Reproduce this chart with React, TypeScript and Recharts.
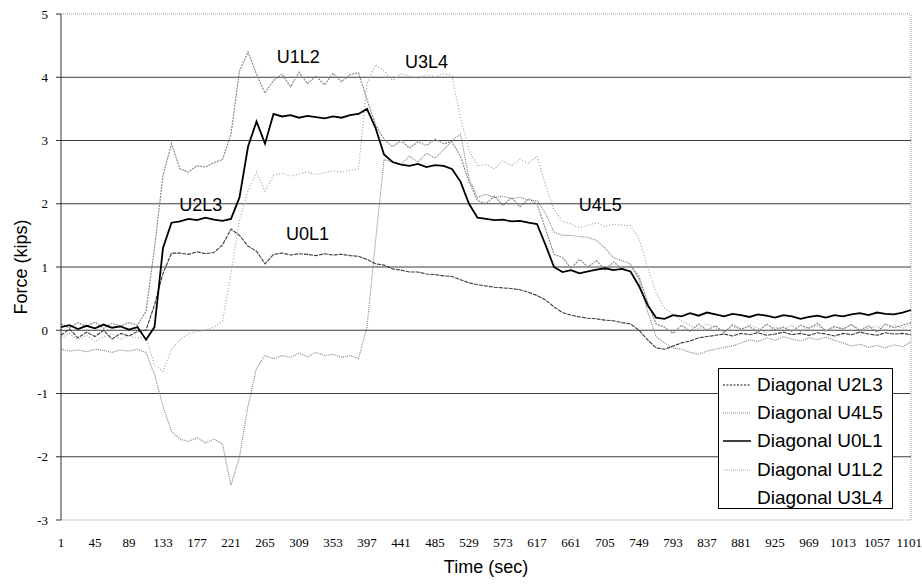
import React from 'react';
import { LineChart, Line, XAxis, YAxis, ReferenceLine, ReferenceDot } from 'recharts';

// sample times (sec)
const TIME = [
  1, 12, 23, 34, 45, 56, 67, 78, 89, 100,
  111, 122, 133, 144, 155, 166, 177, 188, 199, 210,
  221, 232, 243, 254, 265, 276, 287, 298, 309, 320,
  331, 342, 353, 364, 375, 386, 397, 408, 419, 430,
  441, 452, 463, 474, 485, 496, 507, 518, 529, 540,
  551, 562, 573, 584, 595, 606, 617, 628, 639, 650,
  661, 672, 683, 694, 705, 716, 727, 738, 749, 760,
  771, 782, 793, 804, 815, 826, 837, 848, 859, 870,
  881, 892, 903, 914, 925, 936, 947, 958, 969, 980,
  991, 1002, 1013, 1024, 1035, 1046, 1057, 1068, 1079, 1090,
  1101,
];

// Diagonal U0L1 (solid black)
const U0L1 = [
  0.05, 0.08, 0.02, 0.07, 0.03, 0.09, 0.04, 0.06, 0.01, 0.05,
  -0.15, 0.05, 1.3, 1.7, 1.72, 1.76, 1.74, 1.78, 1.75, 1.73,
  1.76, 2.1, 2.9, 3.3, 2.95, 3.42, 3.38, 3.4, 3.36, 3.39,
  3.37, 3.35, 3.38, 3.36, 3.4, 3.42, 3.5, 3.2, 2.78, 2.66,
  2.62, 2.6, 2.63, 2.58, 2.61, 2.6, 2.55, 2.35, 2.0, 1.78,
  1.76, 1.74, 1.75, 1.72, 1.73, 1.7, 1.68, 1.35, 1.0, 0.92,
  0.95, 0.9, 0.93, 0.96, 0.98, 0.95, 0.97, 0.93, 0.7, 0.4,
  0.2, 0.18, 0.24, 0.22, 0.27, 0.23, 0.28, 0.25, 0.22, 0.26,
  0.24, 0.21, 0.25, 0.23, 0.2, 0.24, 0.22, 0.18, 0.21, 0.23,
  0.2, 0.24, 0.22, 0.25, 0.27, 0.24, 0.28, 0.26, 0.25, 0.28,
  0.32,
];

// Diagonal U2L3 (dashed dark)
const U2L3 = [
  -0.08, 0.02, -0.12, -0.03, -0.1, 0.0, -0.14, -0.05, -0.09, -0.02,
  0.0, 0.4, 0.9, 1.22, 1.22, 1.2, 1.24, 1.21, 1.23, 1.35,
  1.6, 1.5, 1.33, 1.25, 1.05, 1.2, 1.22, 1.19, 1.21, 1.2,
  1.18, 1.21, 1.19, 1.2, 1.18, 1.17, 1.12, 1.05, 1.03, 0.97,
  0.95, 0.92, 0.92, 0.89, 0.88, 0.86, 0.85, 0.8, 0.75, 0.72,
  0.7, 0.68, 0.67, 0.66, 0.64, 0.6, 0.55, 0.48, 0.37, 0.28,
  0.24, 0.21, 0.19, 0.18, 0.16, 0.15, 0.12, 0.1, 0.0, -0.15,
  -0.28, -0.3, -0.25, -0.2, -0.17, -0.12, -0.1, -0.08, -0.06, -0.09,
  -0.05, -0.07, -0.04, -0.08, -0.06, -0.03, -0.07, -0.05, -0.08, -0.04,
  -0.06, -0.09, -0.05, -0.07, -0.03, -0.06, -0.08, -0.04, -0.06, -0.05,
  -0.07,
];

// Diagonal U1L2 (noisy gray)
const U1L2 = [
  0.1, 0.04, 0.12, 0.06, 0.13, 0.03, 0.11, 0.07, 0.12, 0.08,
  0.3, 1.3, 2.45, 2.95, 2.55, 2.5, 2.6, 2.58, 2.65, 2.7,
  3.1, 4.1, 4.4, 4.05, 3.75, 3.95, 4.05, 3.85, 4.08, 3.9,
  4.02, 3.88, 4.06, 3.93, 4.04, 4.07, 3.65, 3.25, 3.02, 2.9,
  3.0, 2.88, 2.98, 2.92, 3.02, 2.95, 2.98, 2.75, 2.35, 2.05,
  2.0, 2.12, 1.97, 2.1, 1.95, 2.08, 2.0, 1.6, 1.2, 1.15,
  0.98, 1.12, 1.0, 1.1, 0.95, 1.08, 0.97, 1.02, 0.85, 0.45,
  0.1, 0.05, -0.05, 0.08, -0.02, 0.1, 0.0, 0.07, -0.04, 0.09,
  0.02, 0.06, -0.03, 0.1, 0.01, 0.05, -0.02, 0.08, 0.03, 0.11,
  -0.01, 0.06, 0.02, 0.09, 0.0, 0.07, -0.03, 0.1, 0.04, 0.08,
  0.12,
];

// Diagonal U3L4 (light dotted)
const U3L4 = [
  -0.12, -0.05, -0.15, -0.08, -0.18, -0.1, -0.06, -0.14, -0.09, -0.12,
  -0.1, -0.55, -0.65, -0.3, -0.15, -0.05, -0.02, 0.0, 0.05, 0.15,
  0.9, 1.75, 2.2, 2.5, 2.2, 2.45, 2.48, 2.44, 2.47, 2.5,
  2.46, 2.49, 2.52, 2.5, 2.53, 2.55, 3.9, 4.2, 4.1, 3.95,
  4.05, 4.02, 3.98, 4.04, 4.0, 4.06, 4.02, 3.35, 2.85, 2.6,
  2.62, 2.55, 2.68, 2.6, 2.7, 2.64, 2.75, 2.3, 1.9, 1.72,
  1.68, 1.62, 1.66, 1.7, 1.64, 1.68, 1.66, 1.65, 1.45, 1.0,
  0.6, 0.35, 0.25, 0.15, 0.08, 0.02, 0.1, 0.04, -0.02, 0.06,
  0.0, 0.09, 0.03, -0.04, 0.05, 0.01, 0.08, -0.02, 0.04, 0.07,
  -0.01, 0.05, 0.02, 0.09, -0.03, 0.04, 0.06, 0.0, 0.08, 0.03,
  0.1,
];

// Diagonal U4L5 (gray dotted)
const U4L5 = [
  -0.3, -0.33, -0.31, -0.34, -0.3, -0.32, -0.35, -0.31, -0.33, -0.3,
  -0.35, -0.7, -1.2, -1.6, -1.72, -1.76, -1.7, -1.78, -1.72, -1.8,
  -2.45, -2.0, -1.2, -0.6, -0.4, -0.45, -0.4, -0.43, -0.36, -0.42,
  -0.35, -0.4, -0.38, -0.43, -0.4, -0.45, 0.05, 1.4, 2.7, 2.66,
  2.62, 2.75, 2.66, 2.8, 2.72, 2.85, 3.0, 3.1, 2.4, 2.1,
  2.15, 2.1, 2.12, 2.08, 2.1, 2.06, 2.05, 1.85, 1.55, 1.5,
  1.5, 1.48, 1.47, 1.42, 1.3, 1.15, 1.1, 1.05, 0.8, 0.3,
  -0.1, -0.2, -0.28, -0.3, -0.35, -0.38, -0.33, -0.3, -0.27, -0.25,
  -0.2, -0.15, -0.18, -0.12, -0.16, -0.1, -0.14, -0.17, -0.12, -0.15,
  -0.11, -0.16, -0.2, -0.25, -0.22, -0.27, -0.24, -0.28, -0.23, -0.26,
  -0.18,
];

const X_TICKS = [1, 45, 89, 133, 177, 221, 265, 309, 353, 397, 441, 485, 529, 573, 617, 661, 705, 749, 793, 837, 881, 925, 969, 1013, 1057, 1101];
const Y_TICKS = [-3, -2, -1, 0, 1, 2, 3, 4, 5];
const GRID_Y = [-2, -1, 0, 1, 2, 3, 4];

const ANNOTATIONS = [
  { text: 'U1L2', t: 308, v: 4.32 },
  { text: 'U3L4', t: 474, v: 4.24 },
  { text: 'U2L3', t: 182, v: 1.98 },
  { text: 'U0L1', t: 320, v: 1.53 },
  { text: 'U4L5', t: 699, v: 1.98 },
];

const SERIES = [
  { key: 'u3l4', name: 'Diagonal U3L4', values: U3L4, stroke: '#9c9c9c', width: 1.1, dash: '1 2' },
  { key: 'u4l5', name: 'Diagonal U4L5', values: U4L5, stroke: '#808080', width: 1.1, dash: '1 1' },
  { key: 'u1l2', name: 'Diagonal U1L2', values: U1L2, stroke: '#8a8a8a', width: 1.2, dash: '2 1' },
  { key: 'u2l3', name: 'Diagonal U2L3', values: U2L3, stroke: '#3a3a3a', width: 1.1, dash: '4 1' },
  { key: 'u0l1', name: 'Diagonal U0L1', values: U0L1, stroke: '#000000', width: 1.8, dash: undefined as string | undefined },
];

const LEGEND = [
  { name: 'Diagonal U2L3', stroke: '#111', dash: '2 1.5', width: 1 },
  { name: 'Diagonal U4L5', stroke: '#888', dash: '1 1', width: 1 },
  { name: 'Diagonal U0L1', stroke: '#000', dash: undefined as string | undefined, width: 1.5 },
  { name: 'Diagonal U1L2', stroke: '#aaa', dash: '1 1', width: 1 },
  { name: 'Diagonal U3L4', stroke: 'none', dash: undefined as string | undefined, width: 1 },
];

const rows = TIME.map((t, i) => {
  const r: Record<string, number> = { t };
  SERIES.forEach((s) => {
    r[s.key] = s.values[i];
  });
  return r;
});

const SANS = '"Liberation Sans", Arial, sans-serif';
const SERIF = '"Liberation Serif", "Times New Roman", serif';

const renderXTick = (props: any) => {
  const { x, y, payload } = props;
  const last = payload.value === X_TICKS[X_TICKS.length - 1];
  return (
    <text
      x={last ? x + 11 : x}
      y={y}
      dy="0.71em"
      textAnchor={last ? 'end' : 'middle'}
      fill="#000"
      fontSize={13}
      fontFamily={SERIF}
    >
      {payload.value}
    </text>
  );
};

export default function App() {
  return (
    <div style={{ position: 'absolute', left: 0, top: 0, width: 922, height: 584, background: '#fff' }}>
      <LineChart width={922} height={584} data={rows} margin={{ top: 14, right: 11, bottom: 34, left: 0 }}>
        {GRID_Y.map((y) => (
          <ReferenceLine key={'g' + y} y={y} stroke="#3c3c3c" strokeWidth={1} />
        ))}
        <ReferenceLine y={5} stroke="#9a9a9a" strokeDasharray="1 1" />
        <ReferenceLine x={1101} stroke="#9a9a9a" strokeDasharray="1 1" />
        <XAxis
          type="number"
          dataKey="t"
          domain={[1, 1101]}
          ticks={X_TICKS}
          interval={0}
          tickLine={false}
          tickSize={0}
          tickMargin={18}
          axisLine={{ stroke: '#9a9a9a', strokeDasharray: '1 1' }}
          tick={renderXTick}
          height={30}
        />
        <YAxis
          type="number"
          domain={[-3, 5]}
          ticks={Y_TICKS}
          interval={0}
          width={61}
          tickSize={5}
          tickMargin={8}
          axisLine={{ stroke: '#333' }}
          tickLine={{ stroke: '#333' }}
          tick={{ fill: '#000', fontSize: 13, fontFamily: SERIF }}
        />
        {SERIES.map((s) => (
          <Line
            key={s.key}
            type="linear"
            dataKey={s.key}
            name={s.name}
            stroke={s.stroke}
            strokeWidth={s.width}
            strokeDasharray={s.dash}
            dot={false}
            activeDot={false}
            isAnimationActive={false}
          />
        ))}
        {ANNOTATIONS.map((a) => (
          <ReferenceDot
            key={a.text}
            x={a.t}
            y={a.v}
            r={1}
            fill="none"
            stroke="none"
            label={{ value: a.text, position: 'center', fill: '#000', fontSize: 18, fontFamily: SANS }}
          />
        ))}
      </LineChart>
      <div
        style={{
          position: 'absolute',
          left: 21,
          top: 267,
          transform: 'translate(-50%, -50%) rotate(-90deg)',
          fontFamily: SANS,
          fontSize: 18,
          whiteSpace: 'nowrap',
          color: '#000',
        }}
      >
        Force (kips)
      </div>
      <div
        style={{
          position: 'absolute',
          left: 486,
          top: 567,
          transform: 'translate(-50%, -50%)',
          fontFamily: SANS,
          fontSize: 18,
          whiteSpace: 'nowrap',
          color: '#000',
        }}
      >
        Time (sec)
      </div>
      <div
        style={{
          position: 'absolute',
          left: 718,
          top: 368,
          width: 173,
          height: 139,
          border: '1px solid #000',
          background: '#fff',
          fontFamily: SANS,
          fontSize: 19,
          color: '#000',
        }}
      >
        {LEGEND.map((l, i) => (
          <div key={l.name} style={{ position: 'absolute', left: 4, top: 3 + i * 28.2, height: 26, display: 'flex', alignItems: 'center' }}>
            <svg width={28} height={10} style={{ marginRight: 6 }}>
              <line x1={0} y1={5} x2={28} y2={5} stroke={l.stroke} strokeWidth={l.width} strokeDasharray={l.dash} />
            </svg>
            <span style={{ whiteSpace: 'nowrap' }}>{l.name}</span>
          </div>
        ))}
      </div>
    </div>
  );
}
